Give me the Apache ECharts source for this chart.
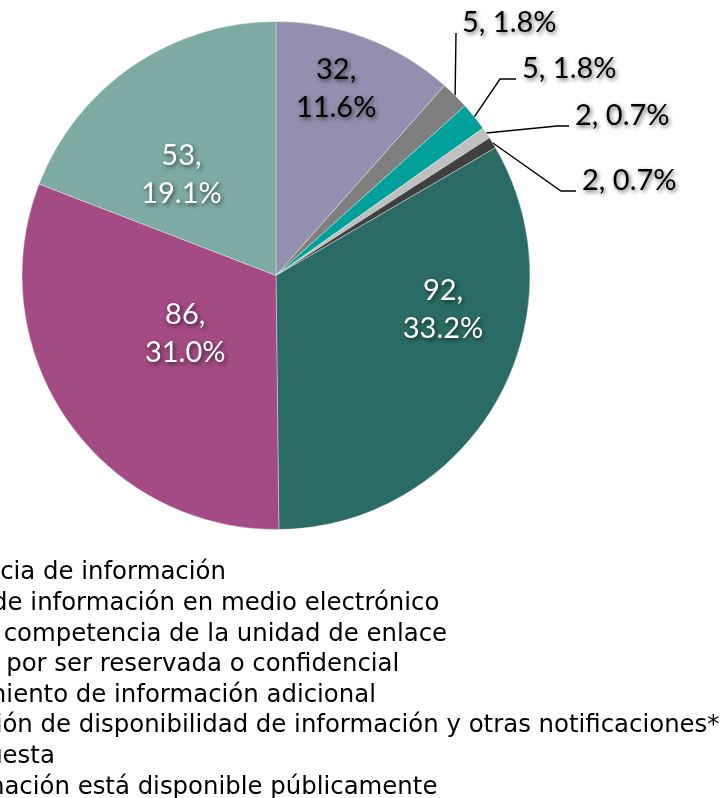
<!DOCTYPE html>
<html><head><meta charset="utf-8">
<script src="https://cdn.jsdelivr.net/npm/echarts@6/dist/echarts.min.js"></script>
<style>html,body{margin:0;padding:0;background:#fff}#c{width:720px;height:798px}</style>
</head><body><div id="c"></div>
<script>
// ---- data ----
const categories = [
  'Inexistencia de información',
  'Entrega de información en medio electrónico',
  'No es de competencia de la unidad de enlace',
  'Negativa por ser reservada o confidencial',
  'Requerimiento de información adicional',
  'Notificación de disponibilidad de información y otras notificaciones*',
  'Sin respuesta',
  'La información está disponible públicamente'
];
const values = [32, 5, 5, 2, 2, 92, 86, 53];
const sliceColors = ['#958FAF', '#7F7F7F', '#00A09B', '#BFBFBF', '#404040', '#2A6C65', '#A44A84', '#7DAAA2'];

// ---- layout helpers ----
const total = values.reduce((a, b) => a + b, 0);
const pct = v => (v / total * 100).toFixed(1) + '%';
const outsideIdx = [1, 2, 3, 4];
const insideShift = {0: [14, -65], 5: [54, -30], 6: [16, -16], 7: [-21, 6]};
const outsideAnchor = {1: [462, 22, 0], 2: [522, 68, 16], 3: [575, 115, 12], 4: [582, 180, 15]};
const shadow = {textShadowColor: 'rgba(0,0,0,0.6)', textShadowBlur: 4, textShadowOffsetX: 1.5, textShadowOffsetY: 2};

const pieData = categories.map((name, i) => {
  const isOut = outsideIdx.indexOf(i) >= 0;
  return {
    name: name,
    value: values[i],
    itemStyle: {color: sliceColors[i]},
    label: isOut ? {
      position: 'outside', color: '#000',
      formatter: p => p.value + ', ' + pct(p.value)
    } : {
      position: 'inside', color: i === 0 ? '#000' : '#fff',
      formatter: p => p.value + ',\n' + pct(p.value)
    },
    labelLine: {show: isOut}
  };
});

const chart = echarts.init(document.getElementById('c'), null, {renderer: 'canvas'});
chart.setOption({
  animation: false,
  backgroundColor: '#fff',
  legend: {
    orient: 'vertical',
    left: -147,
    top: 553,
    height: 280,
    itemWidth: 25,
    itemHeight: 14,
    itemGap: 0.6,
    icon: 'rect',
    selectedMode: false,
    textStyle: {fontFamily: 'DejaVu Sans', fontSize: 24.4, color: '#000', lineHeight: 30}
  },
  series: [{
    type: 'pie',
    center: [276, 275.5],
    radius: 254,
    startAngle: 90,
    clockwise: true,
    avoidLabelOverlap: false,
    itemStyle: {borderColor: 'rgba(255,255,255,0.6)', borderWidth: 0.6},
    label: Object.assign({fontFamily: 'Lato', fontSize: 29, lineHeight: 38}, shadow),
    labelLine: {lineStyle: {color: '#000', width: 1.4}, length: 10, length2: 10},
    emphasis: {disabled: true},
    labelLayout: function (p) {
      const i = p.dataIndex;
      if (insideShift[i]) return {dx: insideShift[i][0], dy: insideShift[i][1]};
      const a = outsideAnchor[i];
      if (!a) return {};
      let start = p.labelLinePoints && p.labelLinePoints[0];
      if (!start) {
        let cum = 0;
        for (let k = 0; k < i; k++) cum += values[k];
        const ang = (cum + values[i] / 2) / total * 2 * Math.PI;
        start = [276 + 254 * Math.sin(ang), 275.5 - 254 * Math.cos(ang)];
      }
      const endX = a[0] - 6, endY = a[1] + 11;
      return {
        x: a[0], y: a[1] + 1, align: 'left', verticalAlign: 'middle',
        labelLinePoints: [start, [endX - a[2], endY], [endX, endY]]
      };
    },
    data: pieData
  }]
});
</script>
</body></html>
